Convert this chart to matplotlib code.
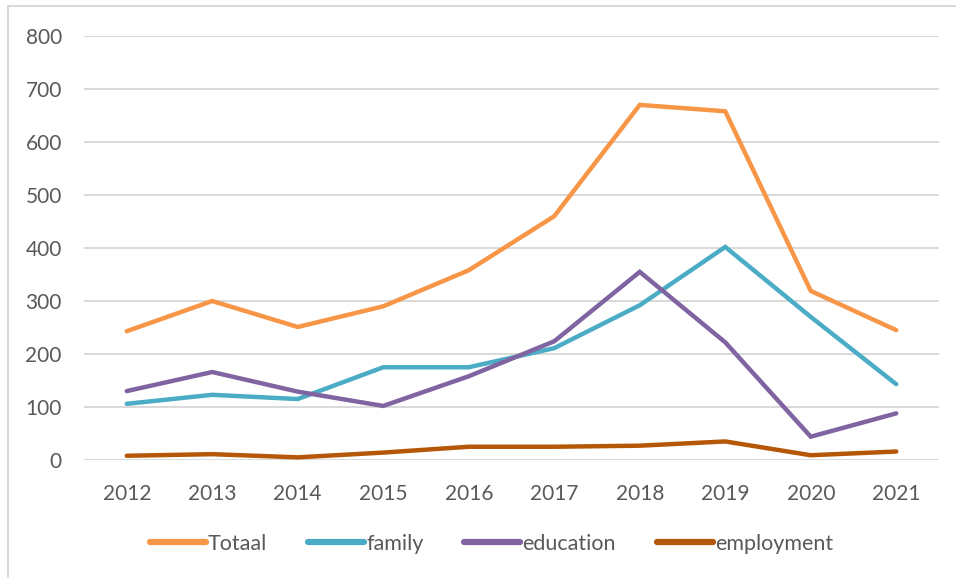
import matplotlib.pyplot as plt
from matplotlib.patches import Rectangle

# data
years = [2012, 2013, 2014, 2015, 2016, 2017, 2018, 2019, 2020, 2021]
totaal = [243, 300, 251, 290, 358, 460, 670, 658, 319, 245]
family = [106, 123, 115, 175, 175, 211, 292, 402, 270, 143]
education = [130, 166, 129, 102, 158, 224, 355, 222, 44, 88]
employment = [8, 11, 5, 14, 25, 25, 27, 35, 9, 16]

series = [
    ("Totaal", totaal, "#F79646"),
    ("family", family, "#4BACC6"),
    ("education", education, "#8064A2"),
    ("employment", employment, "#B65708"),
]

plt.rcParams['font.family'] = ['Lato', 'DejaVu Sans']
text_col = "#595959"

fig = plt.figure(figsize=(9.56, 5.78), dpi=100)
ax = fig.add_axes([84 / 956, 1 - 460 / 578, (939 - 84) / 956, (460 - 36) / 578])

x = list(range(len(years)))
for name, vals, col in series:
    ax.plot(x, vals, color=col, lw=3.2, label=name, solid_capstyle='round', solid_joinstyle='miter')

ax.set_xlim(-0.5, len(years) - 0.5)
ax.set_ylim(0, 800)
ax.set_yticks(range(0, 801, 100))
ax.set_xticks(x)
ax.set_xticklabels([str(y) for y in years])
ax.grid(axis='y', color="#D9D9D9", lw=1.4)
ax.set_axisbelow(True)
for s in ax.spines.values():
    s.set_visible(False)
ax.tick_params(length=0, labelsize=15, colors=text_col, pad=17)
ax.tick_params(axis='y', pad=16)

leg = ax.legend(loc='center', bbox_to_anchor=(0.514, 1 - 544 / 578), bbox_transform=fig.transFigure,
                ncol=4, frameon=False, fontsize=15.5, handlelength=2.6, handletextpad=0.1,
                columnspacing=1.9)
for line in leg.get_lines():
    line.set_linewidth(4.5)
for t in leg.get_texts():
    t.set_color(text_col)

# chart frame (cropped at right and bottom in the reference)
fig.patches.append(Rectangle((8 / 956, -0.1), 1.2, 1 - 6 / 578 + 0.1, transform=fig.transFigure,
                             fill=False, edgecolor="#D9D9D9", lw=1.5))

fig.savefig("out.png", dpi=100)
